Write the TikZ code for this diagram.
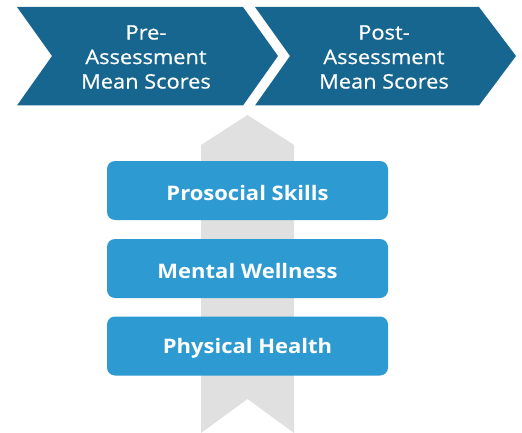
\documentclass[tikz,border=0pt]{standalone}
\usepackage{fontspec}
\setmainfont{Open Sans}
\newfontfamily\chevfont[FakeStretch=1.09,FakeBold=0.6]{Open Sans}
\newfontfamily\barfont[FakeStretch=1.1]{Open Sans Bold}
\definecolor{chevblue}{HTML}{17668F}
\definecolor{barblue}{HTML}{2E9AD2}
\definecolor{ribbongray}{HTML}{E0E0E0}
\begin{document}
\begin{tikzpicture}[x=1pt,y=-1pt,
  chevtext/.style={text=white, align=center, inner sep=0pt,
    font=\chevfont\fontsize{20}{24.5}\selectfont},
  bar/.style={fill=barblue, rounded corners=8pt, minimum width=281pt,
    minimum height=59pt, inner sep=0pt},
  bartext/.style={text=white, inner sep=0pt, yshift=-2pt,
    font=\barfont\fontsize{20}{24}\selectfont}]
\useasboundingbox (0,0) rectangle (522,433);
% gray ribbon behind the three bars
\fill[ribbongray] (201,145) -- (247.5,115) -- (294,145) -- (294,433)
  -- (247.5,399) -- (201,433) -- cycle;
% two chevrons
\fill[chevblue] (17,7) -- (243,7) -- (278,56) -- (243,105.5) -- (17,105.5)
  -- (52,56) -- cycle;
\fill[chevblue] (255,7) -- (479,7) -- (516,56) -- (479,105.5) -- (255,105.5)
  -- (290,56) -- cycle;
\node[chevtext] (pre) at (146,57) {Pre-\\Assessment\\Mean Scores};
\node[chevtext] (post) at (384,57) {Post-\\Assessment\\Mean Scores};
% bars and their labels
\node[bar] (prosocial) at (247.5,190.5) {};
\node[bar] (mental) at (247.5,268.5) {};
\node[bar] (physical) at (247.5,346) {};
\node[bartext] (prosocial-label) at (prosocial) {Prosocial Skills};
\node[bartext] (mental-label) at (mental) {Mental Wellness};
\node[bartext] (physical-label) at (physical) {Physical Health};
\end{tikzpicture}
\end{document}
